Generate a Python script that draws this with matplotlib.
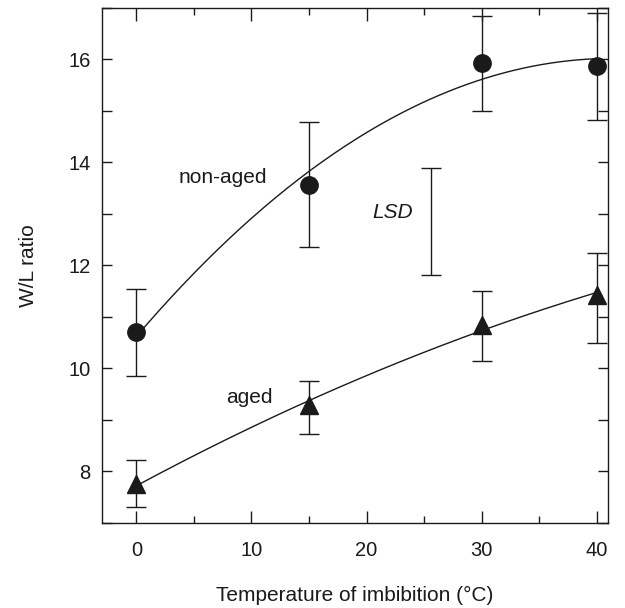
import matplotlib
matplotlib.use("Agg")
import matplotlib.pyplot as plt
import matplotlib.ticker as ticker
import numpy as np

plt.rcParams['font.family'] = ['Liberation Sans', 'DejaVu Sans']

# temperatures of imbibition (C)
temp = [0, 15, 30, 40]

# non-aged seeds
nonaged = [10.7, 13.57, 15.93, 15.87]
nonaged_lo = [9.85, 12.35, 15.0, 14.82]
nonaged_hi = [11.55, 14.78, 16.85, 16.9]

# aged seeds
aged = [7.75, 9.28, 10.85, 11.42]
aged_lo = [7.3, 8.72, 10.15, 10.5]
aged_hi = [8.22, 9.75, 11.5, 12.25]

# LSD bar
lsd_x = 25.6
lsd_lo, lsd_hi = 11.82, 13.9

ink = '#1a1a1a'

fig = plt.figure(figsize=(6.25, 6.08), dpi=100)
ax = fig.add_axes([0.163, 0.14, 0.81, 0.847])

def err(v, lo, hi):
    v = np.array(v); return [v - np.array(lo), np.array(hi) - v]

for y, lo, hi, m in [(nonaged, nonaged_lo, nonaged_hi, 'o'),
                     (aged, aged_lo, aged_hi, '^')]:
    ax.errorbar(temp, y, yerr=err(y, lo, hi), fmt=m, color=ink, ms=12.5,
                capsize=7, elinewidth=1, capthick=1, zorder=3)
    # fitted curve
    c = np.polyfit(temp, y, 2)
    xs = np.linspace(0, 40, 200)
    ax.plot(xs, np.polyval(c, xs), color=ink, lw=1, zorder=2)

ax.errorbar([lsd_x], [(lsd_lo + lsd_hi) / 2], yerr=[(lsd_hi - lsd_lo) / 2],
            fmt='none', color=ink, capsize=7, elinewidth=1, capthick=1)

ax.text(7.5, 13.7, 'non-aged', fontsize=15, color=ink, ha='center', va='center')
ax.text(9.8, 9.43, 'aged', fontsize=15, color=ink, ha='center', va='center')
ax.text(22.3, 13.03, 'LSD', fontsize=15, color=ink, ha='center', va='center',
        style='italic')

ax.set_xlim(-3, 41)
ax.set_ylim(7, 17)
ax.xaxis.set_major_locator(ticker.MultipleLocator(10))
ax.xaxis.set_minor_locator(ticker.MultipleLocator(5))
ax.yaxis.set_major_locator(ticker.MultipleLocator(2))
ax.yaxis.set_minor_locator(ticker.MultipleLocator(1))
ax.tick_params(which='both', direction='in', top=True, right=True,
               labelsize=14.5, colors=ink, width=1)
ax.tick_params(axis='x', which='major', length=9, pad=13)
ax.tick_params(axis='x', which='minor', length=5)
ax.tick_params(axis='y', which='both', length=7, pad=8)
for s in ax.spines.values():
    s.set_color(ink)
    s.set_linewidth(1)

ax.set_xlabel('Temperature of imbibition (°C)', fontsize=15, color=ink, labelpad=19)
ax.set_ylabel('W/L ratio', fontsize=15, color=ink, labelpad=22)

fig.savefig('out.png', dpi=100)
